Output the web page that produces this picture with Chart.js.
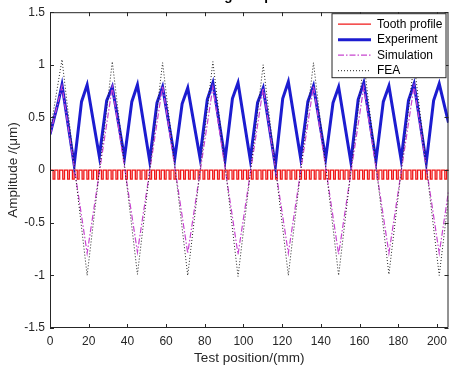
<!DOCTYPE html>
<html>
<head>
<meta charset="utf-8">
<script src="https://cdn.jsdelivr.net/npm/chart.js"></script>
<style>
  html, body { margin: 0; padding: 0; background: #fff; }
  #wrap { width: 453px; height: 371px; overflow: hidden; }
</style>
</head>
<body>
<div id="wrap"><canvas id="c" width="453" height="371"></canvas></div>
<script>
// axis ticks
const xTicks = [0, 20, 40, 60, 80, 100, 120, 140, 160, 180, 200];
const xTickLabels = ['0', '20', '40', '60', '80', '100', '120', '140', '160', '180', '200'];
const yTicks = [-1.5, -1, -0.5, 0, 0.5, 1, 1.5];
const yTickLabels = ['-1.5', '-1', '-0.5', '0', '0.5', '1', '1.5'];

const seriesNames = ['Tooth profile', 'Experiment', 'Simulation', 'FEA'];

// Tooth profile: comb just under zero
const toothStarts = [0, 2.5, 5, 7.5, 10, 12.5, 15, 17.5, 20, 22.5, 25, 27.5, 30, 32.5, 35, 37.5,
  40, 42.5, 45, 47.5, 50, 52.5, 55, 57.5, 60, 62.5, 65, 67.5, 70, 72.5, 75, 77.5, 80, 82.5, 85, 87.5,
  90, 92.5, 95, 97.5, 100, 102.5, 105, 107.5, 110, 112.5, 115, 117.5, 120, 122.5, 125, 127.5, 130,
  132.5, 135, 137.5, 140, 142.5, 145, 147.5, 150, 152.5, 155, 157.5, 160, 162.5, 165, 167.5, 170,
  172.5, 175, 177.5, 180, 182.5, 185, 187.5, 190, 192.5, 195, 197.5, 200, 202.5, 205];
const toothWidth = 1.6;
const toothDepth = -0.085;

// Experiment (measured)
const expX = [0, 4.2, 6.2,
  12.5, 16.3, 19.2, 25.5, 29.3, 32.2, 38.5, 42.3, 45.2, 51.5, 55.3, 58.2,
  64.5, 68.3, 71.2, 77.5, 81.3, 84.2, 90.5, 94.3, 97.2, 103.5, 107.3, 110.2,
  116.5, 120.3, 123.2, 129.5, 133.3, 136.2, 142.5, 146.3, 149.2, 155.5, 159.3, 162.2,
  168.5, 172.3, 175.2, 181.5, 185.3, 188.2, 194.5, 198.3, 201.2, 206];
const expY = [0.34, 0.64, 0.81,
  0.05, 0.65, 0.81, 0.13, 0.66, 0.79, 0.12, 0.65, 0.81, 0.09, 0.64, 0.79,
  0.11, 0.63, 0.78, 0.12, 0.67, 0.83, 0.10, 0.68, 0.83, 0.10, 0.64, 0.78,
  0.04, 0.68, 0.84, 0.12, 0.65, 0.80, 0.11, 0.64, 0.79, 0.08, 0.67, 0.83,
  0.09, 0.65, 0.80, 0.10, 0.66, 0.82, 0.07, 0.66, 0.82, 0.45];

// Simulation and FEA share the same vertices
const simX = [0, 6.2, 19.2, 32.2, 45.2, 58.2, 71.2, 84.2, 97.2, 110.2, 123.2, 136.2,
  149.2, 162.2, 175.2, 188.2, 201.2, 206];
const simY = [0.33, 0.80, -0.79, 0.79, -0.78, 0.80, -0.79, 0.79, -0.80, 0.78, -0.79,
  0.80, -0.80, 0.79, -0.79, 0.80, -0.79, -0.2];
const feaX = simX;
const feaY = [0.36, 1.05, -1.00, 1.03, -0.99, 1.02, -1.00, 1.03, -1.01, 1.00, -1.00,
  1.02, -1.00, 1.03, -0.99, 1.02, -1.00, -0.27];

const toothPts = [];
toothStarts.forEach(t => {
  toothPts.push({x: t, y: toothDepth}, {x: t, y: 0}, {x: t + toothWidth, y: 0}, {x: t + toothWidth, y: toothDepth});
});
const zip = (xs, ys) => xs.map((x, i) => ({x: x, y: ys[i]}));

const axisColor = '#262626';

// MATLAB-like box with inward ticks, legend and clipped title
const boxPlugin = {
  id: 'box',
  afterDatasetsDraw(chart) {
    const ctx = chart.ctx;
    const a = chart.chartArea;
    const xs = chart.scales.x, ys = chart.scales.y;
    ctx.save();
    ctx.strokeStyle = axisColor;
    ctx.lineWidth = 1;
    ctx.beginPath();
    ctx.rect(a.left + 0.5, a.top + 0.5, a.right - a.left - 1, a.bottom - a.top - 1);
    xTicks.forEach(v => {
      const px = Math.round(xs.getPixelForValue(v)) + 0.5;
      ctx.moveTo(px, a.bottom); ctx.lineTo(px, a.bottom - 4);
      ctx.moveTo(px, a.top); ctx.lineTo(px, a.top + 4);
    });
    yTicks.forEach(v => {
      const py = Math.round(ys.getPixelForValue(v)) + 0.5;
      ctx.moveTo(a.left, py); ctx.lineTo(a.left + 4, py);
      ctx.moveTo(a.right, py); ctx.lineTo(a.right - 4, py);
    });
    ctx.stroke();

    // legend
    const lw = 114, lh = 64;
    const lx = a.right - lw - 2.5, ly = a.top + 1.5;
    ctx.fillStyle = '#fff';
    ctx.fillRect(lx, ly, lw, lh);
    ctx.strokeRect(lx, ly, lw, lh);
    ctx.font = '12px "Liberation Sans", Arial, sans-serif';
    ctx.textBaseline = 'middle';
    chart.data.datasets.forEach((ds, i) => {
      const ry = ly + 10.5 + i * 15.5;
      ctx.save();
      ctx.strokeStyle = ds.borderColor;
      ctx.lineWidth = Math.min(ds.borderWidth, 3);
      ctx.setLineDash(ds.borderDash || []);
      ctx.beginPath();
      ctx.moveTo(lx + 6, ry); ctx.lineTo(lx + 39, ry);
      ctx.stroke();
      ctx.restore();
      ctx.fillStyle = '#000';
      ctx.fillText(ds.label, lx + 45, ry);
    });
    ctx.restore();
  },
  afterDraw(chart) {
    const ctx = chart.ctx;
    const a = chart.chartArea;
    ctx.save();
    ctx.fillStyle = '#000';
    ctx.font = 'bold 13.5px "Liberation Sans", Arial, sans-serif';
    ctx.textAlign = 'center';
    ctx.textBaseline = 'alphabetic';
    ctx.fillText('Testing comparison', (a.left + a.right) / 2, 0);
    ctx.restore();
  }
};

new Chart(document.getElementById('c'), {
  type: 'line',
  data: {
    datasets: [
      {label: seriesNames[0], data: toothPts, borderColor: '#f01818', borderWidth: 1.3, order: 4},
      {label: seriesNames[1], data: zip(expX, expY), borderColor: '#1c1cd0', borderWidth: 3, order: 3},
      {label: seriesNames[2], data: zip(simX, simY), borderColor: '#c845d0', borderWidth: 1.2,
        borderDash: [6, 2, 1.5, 2], order: 2},
      {label: seriesNames[3], data: zip(feaX, feaY), borderColor: '#222', borderWidth: 1,
        borderDash: [1, 2], order: 1}
    ]
  },
  options: {
    responsive: false,
    animation: false,
    layout: {padding: {top: 12, right: 3, left: 0, bottom: 0}},
    elements: {point: {radius: 0}, line: {tension: 0}},
    plugins: {legend: {display: false}, tooltip: {enabled: false}},
    scales: {
      x: {
        type: 'linear', min: 0, max: 206,
        afterBuildTicks: s => { s.ticks = xTicks.map(v => ({value: v})); },
        afterFit: s => { s.height = 43; },
        grid: {display: false, drawTicks: false},
        border: {display: false},
        ticks: {
          padding: 6, color: axisColor, maxRotation: 0, autoSkip: false,
          font: {family: '"Liberation Sans", Arial, sans-serif', size: 12},
          callback: v => xTickLabels[xTicks.indexOf(v)]
        },
        title: {
          display: true, text: 'Test position/(mm)', color: axisColor,
          font: {family: '"Liberation Sans", Arial, sans-serif', size: 13.5},
          padding: {top: 0, bottom: 5}
        }
      },
      y: {
        type: 'linear', min: -1.5, max: 1.5,
        afterBuildTicks: s => { s.ticks = yTicks.map(v => ({value: v})); },
        afterFit: s => { s.width = 50; },
        grid: {display: false, drawTicks: false},
        border: {display: false},
        ticks: {
          padding: 5, color: axisColor, autoSkip: false,
          font: {family: '"Liberation Sans", Arial, sans-serif', size: 12},
          callback: v => yTickLabels[yTicks.indexOf(v)]
        },
        title: {
          display: true, text: 'Amplitude /(μm)', color: axisColor,
          font: {family: '"Liberation Sans", Arial, sans-serif', size: 13.5},
          padding: {top: 5, bottom: 0}
        }
      }
    }
  },
  plugins: [boxPlugin]
});
</script>
</body>
</html>
